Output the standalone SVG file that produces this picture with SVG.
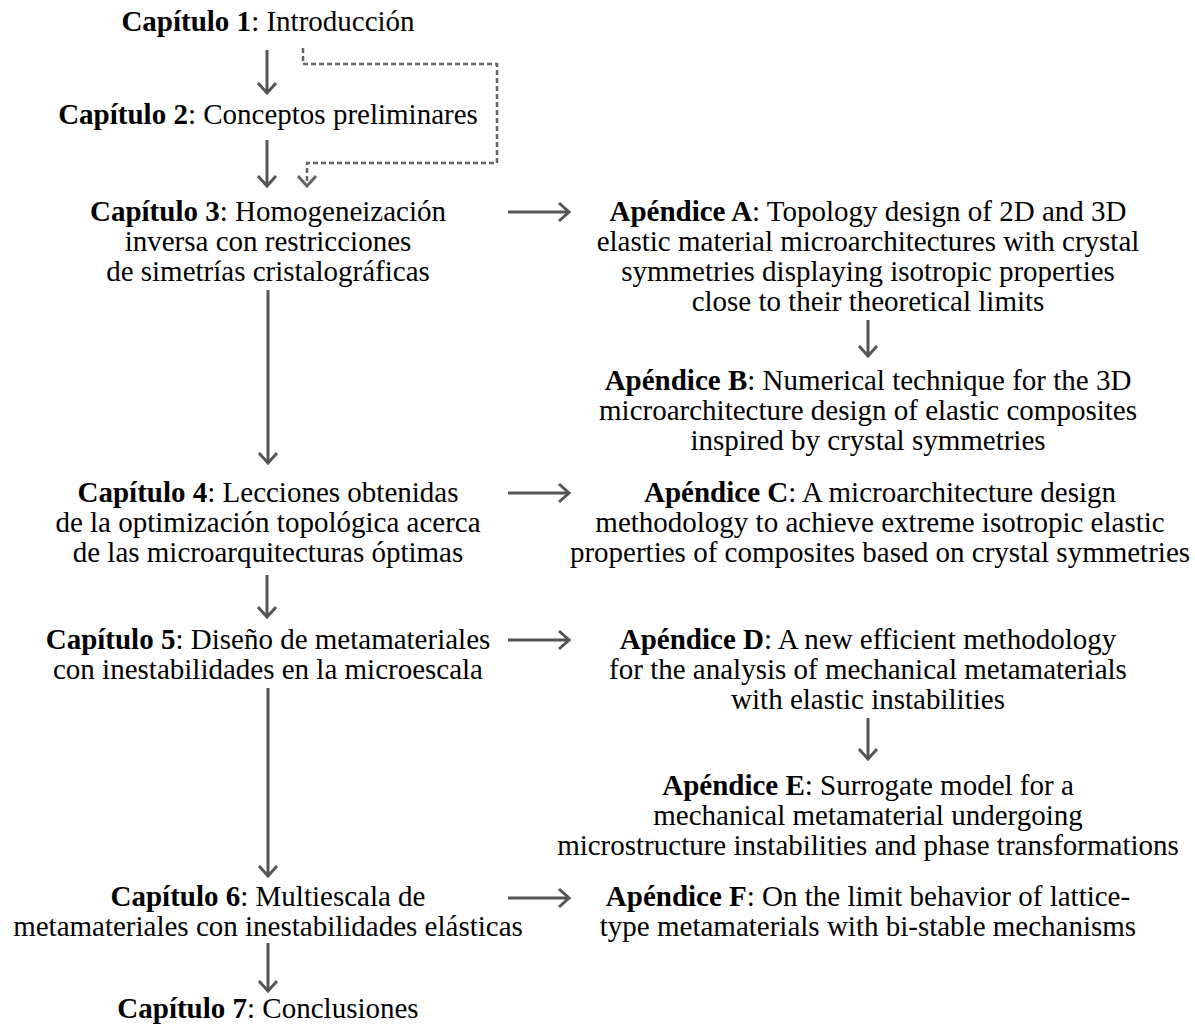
<svg xmlns="http://www.w3.org/2000/svg" width="1195" height="1025" viewBox="0 0 1195 1025">
<style>
text{font-family:"Liberation Serif","Times New Roman",serif;font-size:29px;fill:#000;text-anchor:middle}
.b{font-weight:bold}
.c{fill:none;stroke:#555;stroke-width:3}
.d{fill:none;stroke:#666;stroke-width:2.5;stroke-dasharray:5 3}
</style>
<defs>
<marker id="ah" markerUnits="userSpaceOnUse" viewBox="0 0 14 22" refX="12" refY="11" markerWidth="14" markerHeight="22" orient="auto">
<path d="M2,2 L12,11 L2,20" fill="none" stroke="#555" stroke-width="3"/>
</marker>
<marker id="ahd" markerUnits="userSpaceOnUse" viewBox="0 0 14 22" refX="12" refY="11" markerWidth="14" markerHeight="22" orient="auto">
<path d="M2,2 L12,11 L2,20" fill="none" stroke="#666" stroke-width="3"/>
</marker>
</defs>
<rect width="1195" height="1025" fill="#fff"/>
<g id="connectors">
<path class="c" d="M267,50 V93" marker-end="url(#ah)"/>
<path class="c" d="M267,140 V186" marker-end="url(#ah)"/>
<path class="d" d="M303,48 V64 H497 V163 H307 V186" marker-end="url(#ahd)"/>
<path class="c" d="M268,290 V463" marker-end="url(#ah)"/>
<path class="c" d="M267,575 V617" marker-end="url(#ah)"/>
<path class="c" d="M268,688 V876" marker-end="url(#ah)"/>
<path class="c" d="M268,943 V991" marker-end="url(#ah)"/>
<path class="c" d="M508,212 H569" marker-end="url(#ah)"/>
<path class="c" d="M508,493 H569" marker-end="url(#ah)"/>
<path class="c" d="M508,640 H569" marker-end="url(#ah)"/>
<path class="c" d="M508,898 H569" marker-end="url(#ah)"/>
<path class="c" d="M868,320 V356" marker-end="url(#ah)"/>
<path class="c" d="M868,718 V759" marker-end="url(#ah)"/>
</g>
<g id="ch1"><text x="268" y="31"><tspan class="b">Capítulo 1</tspan>: Introducción</text></g>
<g id="ch2"><text x="268" y="124"><tspan class="b">Capítulo 2</tspan>: Conceptos preliminares</text></g>
<g id="ch3">
<text x="268" y="221"><tspan class="b">Capítulo 3</tspan>: Homogeneización</text>
<text x="268" y="251">inversa con restricciones</text>
<text x="268" y="281">de simetrías cristalográficas</text>
</g>
<g id="apA">
<text x="868" y="221"><tspan class="b">Apéndice A</tspan>: Topology design of 2D and 3D</text>
<text x="868" y="251">elastic material microarchitectures with crystal</text>
<text x="868" y="281">symmetries displaying isotropic properties</text>
<text x="868" y="311">close to their theoretical limits</text>
</g>
<g id="apB">
<text x="868" y="390"><tspan class="b">Apéndice B</tspan>: Numerical technique for the 3D</text>
<text x="868" y="420">microarchitecture design of elastic composites</text>
<text x="868" y="450">inspired by crystal symmetries</text>
</g>
<g id="ch4">
<text x="268" y="502"><tspan class="b">Capítulo 4</tspan>: Lecciones obtenidas</text>
<text x="268" y="532">de la optimización topológica acerca</text>
<text x="268" y="562">de las microarquitecturas óptimas</text>
</g>
<g id="apC">
<text x="880" y="502"><tspan class="b">Apéndice C</tspan>: A microarchitecture design</text>
<text x="880" y="532">methodology to achieve extreme isotropic elastic</text>
<text x="880" y="562">properties of composites based on crystal symmetries</text>
</g>
<g id="ch5">
<text x="268" y="649"><tspan class="b">Capítulo 5</tspan>: Diseño de metamateriales</text>
<text x="268" y="679">con inestabilidades en la microescala</text>
</g>
<g id="apD">
<text x="868" y="649"><tspan class="b">Apéndice D</tspan>: A new efficient methodology</text>
<text x="868" y="679">for the analysis of mechanical metamaterials</text>
<text x="868" y="709">with elastic instabilities</text>
</g>
<g id="apE">
<text x="868" y="795"><tspan class="b">Apéndice E</tspan>: Surrogate model for a</text>
<text x="868" y="825">mechanical metamaterial undergoing</text>
<text x="868" y="855">microstructure instabilities and phase transformations</text>
</g>
<g id="ch6">
<text x="268" y="906"><tspan class="b">Capítulo 6</tspan>: Multiescala de</text>
<text x="268" y="936">metamateriales con inestabilidades elásticas</text>
</g>
<g id="apF">
<text x="868" y="906"><tspan class="b">Apéndice F</tspan>: On the limit behavior of lattice-</text>
<text x="868" y="936">type metamaterials with bi-stable mechanisms</text>
</g>
<g id="ch7"><text x="268" y="1018"><tspan class="b">Capítulo 7</tspan>: Conclusiones</text></g>
</svg>
